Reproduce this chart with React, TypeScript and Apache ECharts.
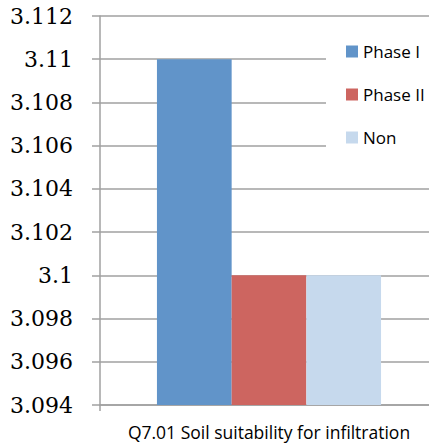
import React, { useEffect, useRef } from "react";
import * as echarts from "echarts";

const categories = ["Q7.01 Soil suitability for infiltration"];
const seriesNames = ["Phase I", "Phase II", "Non"];
const phase1 = [3.11];
const phase2 = [3.1];
const non = [3.1];
const colors = ["#6194c9", "#cd6560", "#c6d9ed"];

export default function App() {
  const ref = useRef<HTMLDivElement>(null);
  useEffect(() => {
    const chart = echarts.init(ref.current!, null, { renderer: "svg" });
    const values = [phase1, phase2, non];
    chart.setOption({
      animation: false,
      backgroundColor: "#ffffff",
      grid: { left: 100, right: 0, top: 16, bottom: 39, containLabel: false },
      legend: {
        orient: "vertical",
        left: 341,
        top: 38,
        itemWidth: 12,
        itemHeight: 12,
        itemGap: 26,
        icon: "rect",
        z: 5,
        textStyle: { fontFamily: "Open Sans", fontSize: 17, color: "#000", lineHeight: 16 },
        data: seriesNames,
      },
      graphic: [
        {
          type: "rect",
          shape: { x: 326, y: 20, width: 120, height: 140 },
          style: { fill: "#ffffff" },
          z: 3,
        },
      ],
      xAxis: {
        type: "category",
        data: categories,
        axisLine: { lineStyle: { color: "#a0a0a0", width: 1.5 } },
        axisTick: { show: true, length: 6, alignWithLabel: false, lineStyle: { color: "#a0a0a0", width: 1.5 } },
        axisLabel: { fontFamily: "Open Sans", fontSize: 17.5, color: "#000", margin: 18 },
      },
      yAxis: {
        type: "value",
        min: 3.094,
        max: 3.112,
        interval: 0.002,
        axisLine: { show: true, lineStyle: { color: "#a0a0a0", width: 1.5 } },
        axisTick: { show: true, length: 8, lineStyle: { color: "#a0a0a0", width: 1.5 } },
        splitLine: { lineStyle: { color: "#a0a0a0", width: 1.5 } },
        axisLabel: {
          fontFamily: "'DejaVu Serif', 'Liberation Serif', 'Times New Roman', serif",
          fontSize: 22,
          color: "#000",
          margin: 27,
          formatter: (v: number) => String(+v.toFixed(3)),
        },
      },
      series: seriesNames.map((name, i) => ({
        name,
        type: "bar",
        data: values[i],
        barGap: "0%",
        barCategoryGap: "33.7%",
        itemStyle: { color: colors[i] },
      })),
    });
    return () => chart.dispose();
  }, []);
  return (
    <div style={{ width: 429, height: 444, position: "absolute", left: 0, top: 0, overflow: "hidden" }}>
      <div ref={ref} style={{ width: 438, height: 444 }} />
    </div>
  );
}
